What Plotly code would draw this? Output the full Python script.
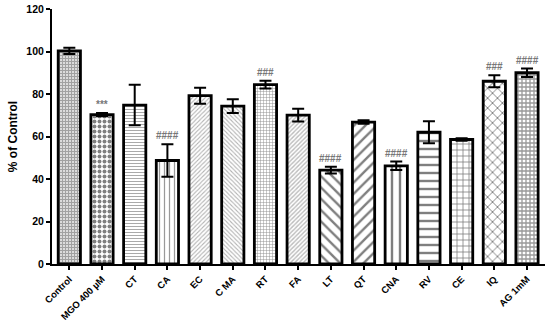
import plotly.graph_objects as go

categories = ["Control", "MGO 400 µM", "CT", "CA", "EC", "C MA", "RT", "FA",
              "LT", "QT", "CNA", "RV", "CE", "IQ", "AG 1mM"]
values = [100.3, 70.3, 74.8, 48.7, 79.2, 74.3, 84.4, 70.1, 44.2, 66.8, 46.2, 62.0, 58.6, 86.0, 90.0]
errors = [1.5, 0.8, 9.5, 7.6, 3.8, 3.2, 1.8, 3.0, 1.6, 0.8, 2.0, 5.2, 0.6, 2.8, 2.0]
marks = ["", "***", "", "####", "", "", "###", "", "####", "", "####", "", "", "###", "####"]

# pattern styles per bar: (shape, size, solidity, fgcolor)
patterns = [
    ("+", 3, 0.7, "#444"),
    (".", 5, 0.5, "#000"),
    ("-", 3, 0.35, "#555"),
    ("|", 5, 0.25, "#333"),
    ("/", 3, 0.35, "#666"),
    ("\\", 3, 0.35, "#666"),
    ("+", 3, 0.3, "#222"),
    ("/", 3, 0.45, "#777"),
    ("\\", 8, 0.3, "#000"),
    ("/", 8, 0.3, "#000"),
    ("|", 8, 0.3, "#000"),
    ("-", 8, 0.3, "#000"),
    ("+", 6, 0.25, "#000"),
    ("x", 7, 0.25, "#000"),
    ("+", 4, 0.55, "#333"),
]

fig = go.Figure()
fig.add_trace(go.Bar(
    x=categories, y=values,
    width=0.68,
    marker=dict(
        color="white",
        line=dict(color="black", width=2.8),
        pattern=dict(
            shape=[p[0] for p in patterns],
            size=[p[1] for p in patterns],
            solidity=[p[2] for p in patterns],
            fgcolor=[p[3] for p in patterns],
            bgcolor="white",
        ),
    ),
    error_y=dict(type="data", array=errors, visible=True, color="black", thickness=2, width=6),
))

for c, v, e, m in zip(categories, values, errors, marks):
    if m:
        fig.add_annotation(x=c, y=v + e, text=m, showarrow=False, yanchor="bottom", yshift=1,
                           font=dict(size=10, color="#777", family="Liberation Sans"))

fig.update_layout(
    width=550, height=323,
    margin=dict(l=52, r=5, t=9, b=59),
    plot_bgcolor="white", paper_bgcolor="white",
    showlegend=False,
    font=dict(family="Liberation Sans", size=10, color="black", weight="bold"),
)
fig.update_xaxes(
    range=[-0.53, 14.55], automargin=False,
    showline=True, linecolor="black", linewidth=2,
    ticks="outside", ticklen=4, tickwidth=1.5, tickcolor="black",
    tickangle=-45, tickfont=dict(size=9.5, weight="bold"),
    showgrid=False,
)
fig.update_yaxes(
    range=[0, 120], tickvals=[0, 20, 40, 60, 80, 100, 120], automargin=False,
    showline=True, linecolor="black", linewidth=2,
    ticks="outside", ticklen=4, tickwidth=1.5, tickcolor="black",
    showgrid=False, zeroline=False,
    title=dict(text="% of Control", font=dict(size=12, weight="bold"), standoff=6),
    tickfont=dict(size=10.5, weight="bold"),
)

fig.write_html("out.html", config={"displayModeBar": False},
               post_script="document.body.style.margin='0';")
